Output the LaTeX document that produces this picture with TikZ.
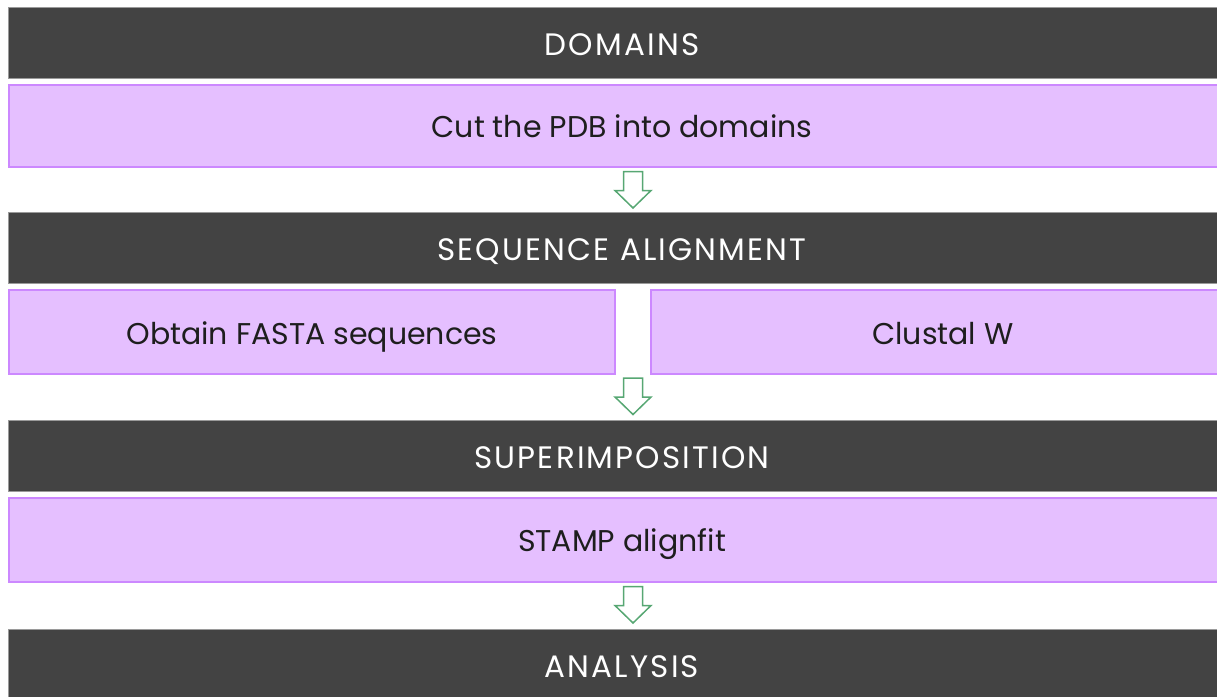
\documentclass[tikz,border=0pt]{standalone}
\usepackage{fontspec}
\setmainfont{Poppins}
\newfontfamily\capsfont[LetterSpace=7]{Poppins}
\usetikzlibrary{calc}
\definecolor{barfill}{HTML}{434343}
\definecolor{barline}{HTML}{9A9A9A}
\definecolor{boxfill}{HTML}{E5BFFF}
\definecolor{boxline}{HTML}{CC88FF}
\definecolor{arrowline}{HTML}{57A773}
\definecolor{textdark}{HTML}{1E1E1E}
\begin{document}
\begin{tikzpicture}[x=1pt,y=-1pt,
  bar/.style={draw=barline,line width=1pt,fill=barfill,text=white,inner sep=0pt,text height=25pt,text depth=0pt,font=\capsfont\fontsize{31}{34}\selectfont},
  stepbox/.style={draw=boxline,line width=2pt,fill=boxfill,text=textdark,inner sep=0pt,text height=24pt,text depth=0pt,font=\fontsize{30}{34}\selectfont},
  flowarrow/.style={draw=arrowline,line width=1.5pt,fill=white,line join=miter}]
\useasboundingbox (0,0) rectangle (1217,696);
\clip (0,0) rectangle (1217,696);
% bars
\node[bar,minimum width=1228pt,minimum height=71pt] (b1) at (622,42.5) {DOMAINS};
\node[stepbox,minimum width=1226pt,minimum height=82pt] (p1) at (622,125.5) {Cut the PDB into domains};
\node[bar,minimum width=1228pt,minimum height=71pt] (b2) at (622,247.5) {SEQUENCE ALIGNMENT};
\node[stepbox,minimum width=606pt,minimum height=84pt] (p2a) at (312,332) {Obtain FASTA sequences};
\node[stepbox,minimum width=584pt,minimum height=84pt] (p2b) at (943,332) {Clustal W};
\node[bar,minimum width=1228pt,minimum height=71pt] (b3) at (622,455.5) {SUPERIMPOSITION};
\node[stepbox,minimum width=1226pt,minimum height=84pt] (p3) at (622,539.5) {STAMP alignfit};
\node[bar,minimum width=1228pt,minimum height=72pt] (b4) at (622,665) {ANALYSIS};
% arrows
\coordinate (a1) at ($(p1.south)+(11,4)$);
\coordinate (a2) at (633,378);
\coordinate (a3) at ($(p3.south)+(11,4)$);
\foreach \c in {a1,a2,a3}{
  \draw[flowarrow] ($(\c)+(-9.5,0)$) -- ($(\c)+(9.5,0)$) -- ($(\c)+(9.5,19)$) -- ($(\c)+(18,19)$)
    -- ($(\c)+(0,36.5)$) -- ($(\c)+(-18,19)$) -- ($(\c)+(-9.5,19)$) -- cycle;
}
\end{tikzpicture}
\end{document}
